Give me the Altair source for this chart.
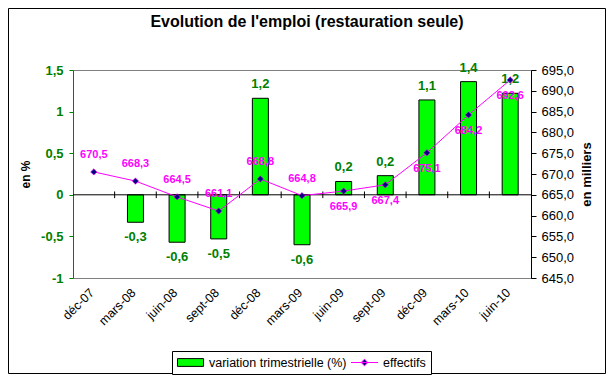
import altair as alt
import pandas as pd

FONT = "Liberation Sans"

categories = ["déc-07", "mars-08", "juin-08", "sept-08", "déc-08", "mars-09",
              "juin-09", "sept-09", "déc-09", "mars-10", "juin-10"]
variation = [None, -0.33, -0.57, -0.53, 1.16, -0.60, 0.16, 0.23, 1.14, 1.36, 1.22]
effectifs = [670.5, 668.3, 664.5, 661.1, 668.8, 664.8, 665.9, 667.4, 675.1, 684.2, 692.6]
left_ticks = [-1, -0.5, 0, 0.5, 1, 1.5]
right_ticks = [645, 650, 655, 660, 665, 670, 675, 680, 685, 690, 695]
series = ["variation trimestrielle (%)", "effectifs"]
title_text = "Evolution de l'emploi (restauration seule)"

df = pd.DataFrame({"cat": categories, "idx": list(range(len(categories))),
                   "var": variation, "eff": effectifs})

RECT = "M-2.17,-0.65H2.17V0.65H-2.17Z"
LINE = "M-2.25,0H2.25M0,-0.55L0.55,0L0,0.55L-0.55,0Z"

base = alt.Chart(df)
xscale = alt.Scale(paddingInner=0, paddingOuter=0)
x_main = alt.X("cat:N", sort=categories, scale=xscale,
               axis=alt.Axis(title=None, labelAngle=315, domain=False, ticks=False,
                             labelFont=FONT, labelFontSize=12.5, labelColor="black",
                             labelPadding=8, labelOffset=-6))
x_plain = alt.X("cat:N", sort=categories, scale=xscale)


def yl(field, axis=None):
    return alt.Y(field, scale=alt.Scale(domain=[-1, 1.5], nice=False, zero=False),
                 axis=axis)


def yr(field, axis=None):
    return alt.Y(field, scale=alt.Scale(domain=[645, 695], nice=False, zero=False),
                 axis=axis)


left_axis = alt.Axis(orient="left", values=left_ticks, format="~g", title="en %",
                     grid=False, domainColor="#008000", tickColor="#008000",
                     labelColor="#008000", labelFontWeight="bold",
                     labelFont=FONT, labelFontSize=13, tickSize=4, labelPadding=6,
                     titleFont=FONT, titleFontSize=12, titleFontWeight="bold",
                     titleColor="black", titlePadding=8)
right_axis = alt.Axis(orient="right", values=right_ticks, format=".1f",
                      title="en milliers", grid=False, domainColor="black",
                      tickColor="black", labelColor="black", labelFont=FONT,
                      labelFontSize=13, tickSize=5, labelPadding=5,
                      titleFont=FONT, titleFontSize=13, titleFontWeight="bold",
                      titleColor="black", titleAngle=270, titlePadding=20)

frame = alt.Chart(pd.DataFrame({"a": [0]})).mark_rect(
    fillOpacity=0, stroke="black", strokeWidth=1).encode(
    x=alt.value(-64.5), x2=alt.value(532.5), y=alt.value(-61.5), y2=alt.value(303.5))

bars = base.transform_filter("isValid(datum.var)").transform_calculate(
    serie="'" + series[0] + "'"
).mark_bar(size=16, stroke="black", strokeWidth=1).encode(
    x=x_main, y=yl("var:Q", left_axis),
    color=alt.Color("serie:N",
                    scale=alt.Scale(domain=series, range=["#00FF00", "#000080"]),
                    legend=alt.Legend(
                        title=None, orient="none", legendX=99, legendY=281,
                        direction="horizontal", strokeColor="black", fillColor="white",
                        padding=5, columnPadding=2, labelFont=FONT, labelFontSize=12.5,
                        labelColor="black", labelOffset=12, symbolSize=144,
                        symbolOffset=7, symbolStrokeWidth=1,
                        symbolType={"expr": "datum.value == 'effectifs' ? '" + LINE + "' : '" + RECT + "'"},
                        symbolStrokeColor={"expr": "datum.value == 'effectifs' ? '#FF00FF' : '#000000'"},
                    )),
)

zero = alt.Chart(pd.DataFrame({"var": [0]})).mark_rule(color="black", strokeWidth=1).encode(
    y=yl("var:Q"))

ticks = base.transform_filter("datum.idx > 0").transform_calculate(
    lo="-0.04", hi="0.04").mark_rule(color="black", strokeWidth=1).encode(
    x=alt.X("cat:N", sort=categories, scale=xscale, bandPosition=0),
    y=yl("lo:Q"), y2="hi:Q")

bar_valid = base.transform_filter("isValid(datum.var)")
bar_pos = bar_valid.transform_filter("datum.var >= 0").mark_text(
    dy=-14, font=FONT, fontSize=13, fontWeight="bold", color="#008000").encode(
    x=x_plain, y=yl("var:Q"), text=alt.Text("var:Q", format=".1f"))
bar_neg = bar_valid.transform_filter("datum.var < 0").mark_text(
    dy=15, font=FONT, fontSize=13, fontWeight="bold", color="#008000").encode(
    x=x_plain, y=yl("var:Q"), text=alt.Text("var:Q", format=".1f"))

line = base.mark_line(color="#FF00FF", strokeWidth=1).encode(
    x=x_plain, y=yr("eff:Q", right_axis))
pts = base.mark_point(shape="diamond", filled=True, color="#000080", stroke="#FF00FF",
                      strokeWidth=0.6, size=40, opacity=1).encode(x=x_plain, y=yr("eff:Q"))
eff_up = base.transform_filter("datum.idx < 6").mark_text(
    dy=-17, font=FONT, fontSize=11, fontWeight="bold", color="#FF00FF").encode(
    x=x_plain, y=yr("eff:Q"), text=alt.Text("eff:Q", format=".1f"))
eff_dn = base.transform_filter("datum.idx >= 6").mark_text(
    dy=16, font=FONT, fontSize=11, fontWeight="bold", color="#FF00FF").encode(
    x=x_plain, y=yr("eff:Q"), text=alt.Text("eff:Q", format=".1f"))

chart = alt.layer(frame, bars, zero, ticks, bar_pos, bar_neg, line, pts, eff_up, eff_dn
                  ).resolve_scale(y="independent").properties(
    width=458, height=208,
    padding=0,
    background="white",
    title=alt.TitleParams(title_text, font=FONT, fontSize=16, fontWeight="bold",
                          color="black", anchor="middle", dx=5, offset=-22),
).configure(
    locale=alt.Locale(number=alt.NumberLocale(decimal=",", thousands=" ", grouping=[3],
                                              currency=["", " €"], minus="-"))
).configure_view(stroke="#808080", strokeWidth=1)

chart.save("out.html", embed_options={"renderer": "svg", "actions": False})
